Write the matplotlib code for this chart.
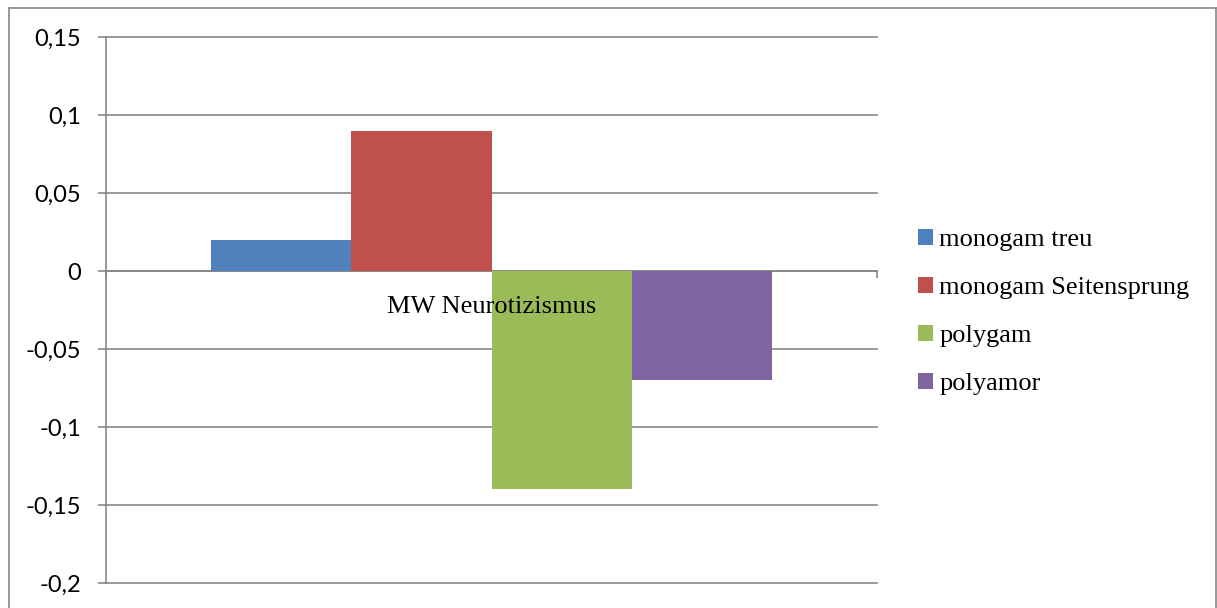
import matplotlib
matplotlib.use("Agg")
import matplotlib.pyplot as plt
from matplotlib.lines import Line2D
from matplotlib.patches import Patch
from matplotlib.ticker import FixedLocator, FuncFormatter

# Data
category = "MW Neurotizismus"
series_names = ["monogam treu", "monogam Seitensprung", "polygam", "polyamor"]
series_values = [0.02, 0.09, -0.14, -0.07]
series_colors = ["#4F81BD", "#C0504D", "#9BBB59", "#8064A2"]
y_ticks = [-0.2, -0.15, -0.1, -0.05, 0, 0.05, 0.1, 0.15]

W, H = 1217, 608
fig = plt.figure(figsize=(W / 100, H / 100), dpi=100)
fig.patch.set_facecolor("white")

ax = fig.add_axes([106 / W, 1 - 583 / H, (877 - 106) / W, (583 - 37) / H])

grey = "#878787"
serif = ["Liberation Serif", "DejaVu Serif"]
bar_w = 0.1816
n = len(series_values)
for i, (name, val, col) in enumerate(zip(series_names, series_values, series_colors)):
    ax.bar(0 + (i - (n - 1) / 2) * bar_w, val, width=bar_w, color=col,
           label=name, zorder=3, linewidth=0)

ax.set_xlim(-0.5, 0.5)
ax.set_ylim(-0.2, 0.15)

# y axis
ax.yaxis.set_major_locator(FixedLocator(y_ticks))
def fmt(v, pos):
    s = format(round(v, 2), "g")
    if s == "-0":
        s = "0"
    return s.replace(".", ",")
ax.yaxis.set_major_formatter(FuncFormatter(fmt))
ax.yaxis.grid(True, color=grey, linewidth=1.2, zorder=1)
for gl in ax.get_ygridlines():
    gl.set_clip_on(False)
ax.tick_params(axis="y", direction="out", length=6, width=1.2, color=grey,
               pad=12, labelsize=17, labelcolor="black")
for lab in ax.get_yticklabels():
    lab.set_family(["Lato", "DejaVu Sans"])

# category axis on the zero line
ax.spines["bottom"].set_position(("data", 0))
ax.spines["bottom"].set_color(grey)
ax.spines["bottom"].set_linewidth(1.2)
ax.spines["left"].set_color(grey)
ax.spines["left"].set_linewidth(1.2)
ax.spines["top"].set_visible(False)
ax.spines["right"].set_visible(False)
ax.set_xticks([])
ax.set_xticks([-0.5, 0.5], minor=True)
ax.tick_params(axis="x", which="minor", direction="out", length=5, width=1.2, color=grey)
ax.annotate(category, xy=(0, 0), xycoords="data", xytext=(0, -18),
            textcoords="offset points", ha="center", va="top",
            family=serif, fontsize=19, zorder=6)

# legend
handles = [Patch(facecolor=c, edgecolor="none") for c in series_colors]
fig.legend(handles, series_names, loc="center left",
           bbox_to_anchor=(918 / W, 1 - 312 / H), frameon=False,
           prop={"family": serif, "size": 19},
           handlelength=0.55, handleheight=0.55, handletextpad=0.25,
           labelspacing=0.97, borderpad=0, borderaxespad=0)

# chart border
x0, x1 = 8.5 / W, 1215.5 / W
yt = 1 - 7.5 / H
for xs, ys in [([x0, x0], [-0.01, yt]), ([x0, x1], [yt, yt]), ([x1, x1], [yt, -0.01])]:
    fig.add_artist(Line2D(xs, ys, transform=fig.transFigure, color=grey, linewidth=1.2))

fig.savefig("out.png", dpi=100)
